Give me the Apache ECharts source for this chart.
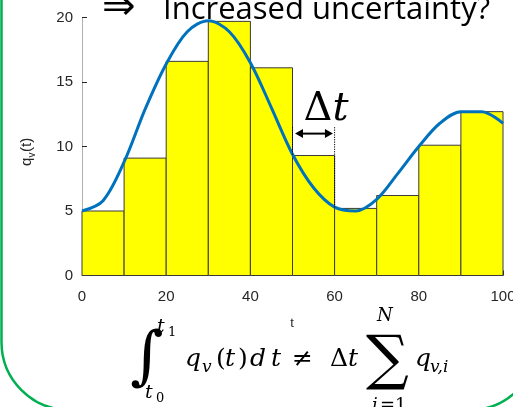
<!DOCTYPE html>
<html>
<head>
<meta charset="utf-8">
<script src="https://cdn.jsdelivr.net/npm/echarts@6/dist/echarts.min.js"></script>
<style>
  html, body { margin: 0; padding: 0; background: #ffffff; overflow: hidden; }
  #chart { width: 513px; height: 407px; }
</style>
</head>
<body>
<div id="chart"></div>
<script>
// Histogram bins (edges in t) and the bar heights q_v,i
const binEdges = [0, 10, 20, 30, 40, 50, 60, 70, 80, 90, 100];
const binValues = [5.0, 9.1, 16.6, 19.7, 16.1, 9.3, 5.2, 6.2, 10.1, 12.7];

// Continuous signal q_v(t), sampled every 5 units of t
const curveT = [0, 5, 10, 15, 20, 25, 30, 35, 40, 45, 50, 55, 60, 65, 70, 75, 80, 85, 90, 95, 100];
const curveQ = [5.0, 5.8, 8.8, 12.9, 16.4, 18.9, 19.75, 18.9, 16.5, 13.0, 9.4, 6.8, 5.3, 5.0, 5.9, 7.9, 10.0, 11.8, 12.7, 12.7, 11.8];

// Axis tick values
const xTicks = [0, 20, 40, 60, 80, 100];
const yTicks = [0, 5, 10, 15, 20];

const AXIS_TEXT = '#262626';
const SANS = '"Liberation Sans", Arial, sans-serif';
const MATH_FONT = '"DejaVu Serif", serif';

const chart = echarts.init(document.getElementById('chart'), null, { renderer: 'canvas' });

const barData = binValues.map((v, i) => [binEdges[i], binEdges[i + 1], v]);
const lineData = curveT.map((t, i) => [t, curveQ[i]]);

chart.setOption({
  animation: false,
  backgroundColor: '#ffffff',
  grid: { left: 82, right: 10, top: 17.5, bottom: 131.5, containLabel: false, outerBoundsMode: 'none' },
  xAxis: {
    type: 'value',
    min: xTicks[0], max: xTicks[xTicks.length - 1], interval: xTicks[1] - xTicks[0],
    axisLine: { show: true, lineStyle: { color: '#b0b0b0', width: 1 } },
    axisTick: { show: true, inside: true, length: 5, lineStyle: { color: AXIS_TEXT } },
    axisLabel: { color: AXIS_TEXT, fontFamily: SANS, fontSize: 15, margin: 14, hideOverlap: false },
    splitLine: { show: false }
  },
  yAxis: {
    type: 'value',
    min: yTicks[0], max: yTicks[yTicks.length - 1], interval: yTicks[1] - yTicks[0],
    axisLine: { show: true, lineStyle: { color: '#b0b0b0', width: 1 } },
    axisTick: { show: true, inside: true, length: 5, lineStyle: { color: AXIS_TEXT } },
    axisLabel: { color: AXIS_TEXT, fontFamily: SANS, fontSize: 15, margin: 9 },
    splitLine: { show: false }
  },
  series: [
    {
      type: 'custom',
      z: 2,
      data: barData,
      encode: { x: [0, 1], y: 2 },
      renderItem: function (params, api) {
        const topLeft = api.coord([api.value(0), api.value(2)]);
        const bottomRight = api.coord([api.value(1), 0]);
        return {
          type: 'rect',
          shape: {
            x: topLeft[0], y: topLeft[1],
            width: bottomRight[0] - topLeft[0],
            height: bottomRight[1] - topLeft[1]
          },
          style: { fill: '#ffff00', stroke: '#3a3a3a', lineWidth: 1 }
        };
      }
    },
    {
      type: 'line',
      z: 3,
      data: lineData,
      smooth: 0.33,
      showSymbol: false,
      lineStyle: { color: '#0072bd', width: 3 }
    }
  ]
});

// text placed by its alphabetic baseline (zrender aligns on the em-box middle)
function textAt(text, x, baseline, font, size, extra) {
  return Object.assign({
    type: 'text', z: 20,
    style: {
      text: text, x: x, y: baseline - 0.3 * size,
      font: font, fill: '#000000', verticalAlign: 'middle', align: 'left'
    }
  }, extra || {});
}
function mathText(text, x, baseline, size, italic) {
  return textAt(text, x, baseline, (italic ? 'italic ' : '') + size + 'px ' + MATH_FONT, size);
}

// Δt annotation: dotted bin boundaries, double arrow and label
const annoTop = 11.5, arrowLevel = 11.0, labelBase = 11.9;
const px = (x, y) => chart.convertToPixel({ gridIndex: 0 }, [x, y]);
const edgeA = binEdges[5], edgeB = binEdges[6];
const pA1 = px(edgeA, annoTop), pA2 = px(edgeA, Math.min(binValues[4], binValues[5]));
const pB1 = px(edgeB, annoTop), pB2 = px(edgeB, Math.min(binValues[5], binValues[6]));
const arL = px(edgeA + 0.6, arrowLevel), arR = px(edgeB - 0.4, arrowLevel);
const lab = px(edgeA + 2.6, labelBase);
const head = 8, half = 4.5;

const graphics = [
  // dotted boundaries of one bin
  { type: 'line', z: 10, shape: { x1: pA1[0], y1: pA1[1], x2: pA2[0], y2: pA2[1] },
    style: { stroke: '#000', lineWidth: 1, lineDash: [1.2, 1.2] } },
  { type: 'line', z: 10, shape: { x1: pB1[0], y1: pB1[1], x2: pB2[0], y2: pB2[1] },
    style: { stroke: '#000', lineWidth: 1, lineDash: [1.2, 1.2] } },
  // double-headed arrow
  { type: 'line', z: 10, shape: { x1: arL[0] + head - 1, y1: arL[1], x2: arR[0] - head + 1, y2: arR[1] },
    style: { stroke: '#000', lineWidth: 2 } },
  { type: 'polygon', z: 10, shape: { points: [[arL[0], arL[1]], [arL[0] + head, arL[1] - half], [arL[0] + head, arL[1] + half]] },
    style: { fill: '#000' } },
  { type: 'polygon', z: 10, shape: { points: [[arR[0], arR[1]], [arR[0] - head, arR[1] - half], [arR[0] - head, arR[1] + half]] },
    style: { fill: '#000' } },
  mathText('Δ', lab[0], lab[1], 40, false),
  mathText('t', lab[0] + 29, lab[1], 40, true),

  // y-axis label q_v(t), rotated to read upwards
  {
    type: 'group', x: 31, y: 166, rotation: Math.PI / 2, z: 10,
    children: [
      { type: 'text', style: { text: 'q', x: 0, y: -4.5, font: '15px ' + SANS, fill: AXIS_TEXT, verticalAlign: 'middle' } },
      { type: 'text', style: { text: 'v', x: 8.5, y: 1, font: '10px ' + SANS, fill: AXIS_TEXT, verticalAlign: 'middle' } },
      { type: 'text', style: { text: '(t)', x: 14, y: -4.5, font: '15px ' + SANS, fill: AXIS_TEXT, verticalAlign: 'middle' } }
    ]
  },
  // x-axis label
  { type: 'text', z: 10, style: { text: 't', x: 292, y: 327 - 3.9, font: '13px ' + SANS, fill: AXIS_TEXT, align: 'center', verticalAlign: 'middle' } },

  // heading
  textAt('⇒', 102, 21, '40px "DejaVu Sans", sans-serif', 40),
  textAt('Increased uncertainty?', 163, 19, '31px "Open Sans", sans-serif', 31),

  // formula: integral of q_v(t) dt ≠ Δt Σ q_v,i
  mathText('∫', 130, 380, 64, false),
  mathText('t', 157, 333, 19, true),
  mathText('1', 168, 337, 13, false),
  mathText('t', 145, 399, 19, true),
  mathText('0', 156, 403, 13, false),
  mathText('q', 185, 367, 25, true),
  mathText('v', 202, 373, 17, true),
  mathText('(', 216, 367, 25, false),
  mathText('t', 225, 367, 25, true),
  mathText(')', 238, 367, 25, false),
  mathText('d', 250, 367, 25, true),
  mathText('t', 271, 367, 25, true),
  mathText('≠', 292, 367, 25, false),
  mathText('Δ', 330, 367, 25, false),
  mathText('t', 348, 367, 25, true),
  mathText('∑', 366, 380, 60, false),
  mathText('N', 377, 322, 18, true),
  mathText('i', 372, 412, 18, true),
  mathText('=1', 380, 412, 18, false),
  mathText('q', 415, 367, 25, true),
  mathText('v,i', 430, 373, 17, true),

  // rounded green frame
  { type: 'rect', z: 30, shape: { x: 1.5, y: -120, width: 536, height: 530, r: 68 },
    style: { fill: 'none', stroke: '#00b050', lineWidth: 2.5 } }
];

chart.setOption({ graphic: graphics });
</script>
</body>
</html>
